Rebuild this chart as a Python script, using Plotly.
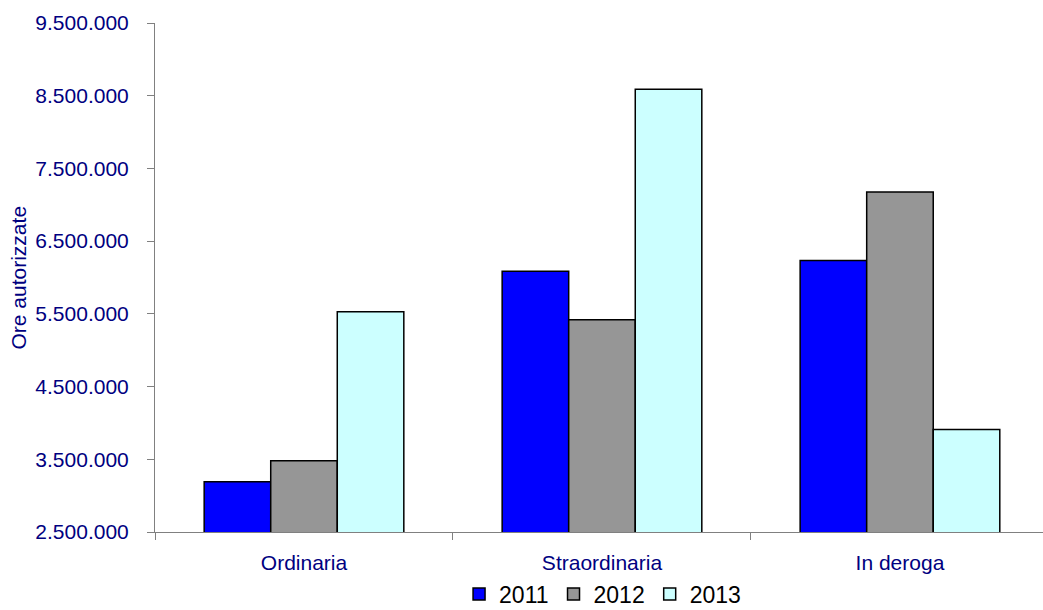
import plotly.graph_objects as go

# Authorised hours of wage guarantee fund (CIG) by type and year
categories = ["Ordinaria", "Straordinaria", "In deroga"]
years = ["2011", "2012", "2013"]
ore_2011 = [3190000, 6087000, 6234000]
ore_2012 = [3480000, 5418000, 7177000]
ore_2013 = [5528000, 8588000, 3911000]
y_ticks = [2500000, 3500000, 4500000, 5500000, 6500000, 7500000, 8500000, 9500000]

series = [ore_2011, ore_2012, ore_2013]
colors = ["#0000FF", "#969696", "#CCFFFF"]

navy = "#000080"
font_family = "Liberation Sans, Arial, sans-serif"

fig = go.Figure()
for year, vals, col in zip(years, series, colors):
    fig.add_trace(go.Bar(
        x=categories, y=vals, name=year,
        marker=dict(color=col, line=dict(color="#000000", width=1.5)),
    ))

fig.update_layout(
    width=1043, height=610,
    margin=dict(l=155, r=0, t=23, b=78, autoexpand=False),
    paper_bgcolor="white", plot_bgcolor="white",
    barmode="group", bargap=0.33, bargroupgap=0,
    separators=",.",
    font=dict(family=font_family, color=navy, size=21),
    showlegend=True,
    legend=dict(
        orientation="h", x=0.504, xanchor="center", y=-0.122, yanchor="middle",
        font=dict(family=font_family, size=23, color="#000000"),
        bgcolor="rgba(0,0,0,0)", itemclick=False, traceorder="normal",
    ),
    xaxis=dict(
        range=[-0.5, 2.48], showline=True, linecolor="#808080", linewidth=1,
        ticks="outside", tickson="boundaries", ticklen=7, tickcolor="#808080",
        showgrid=False, zeroline=False, ticklabelstandoff=12,
        tickfont=dict(size=21, color=navy),
    ),
    yaxis=dict(
        range=[2500000, 9500000], tickvals=y_ticks, tickformat=",d",
        showline=True, linecolor="#808080", linewidth=1,
        ticks="outside", ticklen=7, tickcolor="#808080",
        showgrid=False, zeroline=False, ticklabelstandoff=14,
        tickfont=dict(size=21, color=navy),
    ),
    annotations=[dict(
        text="Ore autorizzate", textangle=-90, showarrow=False,
        xref="paper", yref="paper", x=(18 - 155) / 888, y=0.5,
        xanchor="center", yanchor="middle",
        font=dict(family=font_family, size=21, color=navy),
    )],
)

fig.write_html("out.html")
